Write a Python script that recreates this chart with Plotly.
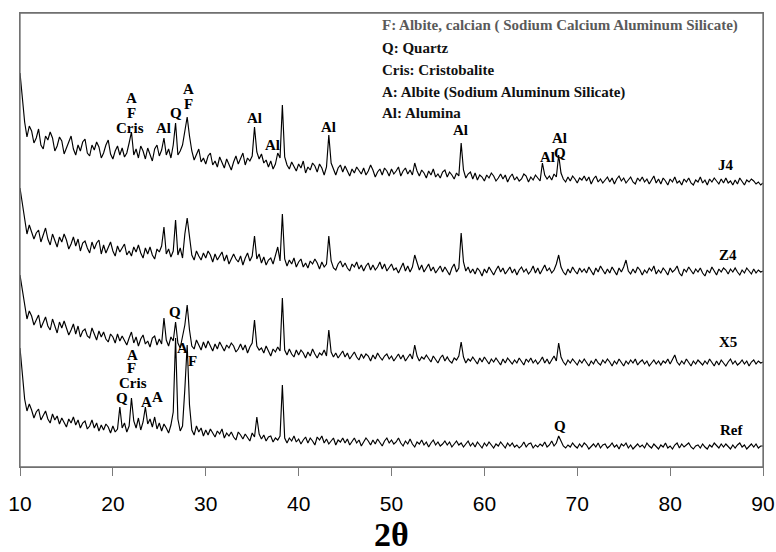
import numpy as np
import plotly.graph_objects as go

# 2-theta sampling grid (degrees)
TWO_THETA_START = 10.0
TWO_THETA_STOP = 90.0
TWO_THETA_STEP = 0.25
two_theta = np.arange(TWO_THETA_START, TWO_THETA_STOP + 1e-9, TWO_THETA_STEP)

# Intensities (a.u., already offset for stacking), 4 samples per degree
j4_intensity = [
    394, 370, 345, 330, 341, 336, 324, 329, 338, 322, 318, 331, 327, 335, 329, 316,
    321, 330, 326, 313, 319, 327, 331, 318, 312, 322, 316, 325, 328, 314, 311, 322,
    317, 325, 320, 309, 314, 322, 327, 313, 308, 316, 321, 312, 319, 310, 314, 324,
    335, 312, 318, 309, 321, 316, 308, 319, 313, 306, 318, 322, 311, 317, 329, 312,
    318, 309, 322, 344, 312, 316, 322, 336, 350, 331, 316, 307, 313, 318, 305, 309,
    303, 311, 314, 302, 306, 300, 310, 304, 299, 308, 302, 297, 305, 311, 303, 308,
    314, 302, 309, 306, 311, 340, 315, 308, 313, 304, 307, 300, 306, 298, 303, 314,
    309, 362, 310, 302, 298, 305, 301, 296, 303, 299, 306, 294, 300, 297, 304, 301,
    295, 303, 299, 292, 300, 332, 304, 297, 292, 299, 302, 295, 301, 296, 291, 298,
    294, 300, 297, 293, 299, 292, 296, 302, 297, 290, 295, 298, 292, 299, 296, 291,
    298, 293, 296, 300, 291, 296, 299, 293, 297, 292, 304, 296, 291, 297, 294, 289,
    296, 292, 298, 290, 293, 289, 295, 297, 290, 295, 292, 288, 294, 291, 324, 297,
    289, 293, 295, 288, 294, 287, 292, 290, 286, 292, 289, 294, 291, 286, 289, 293,
    288, 292, 285, 290, 293, 287, 290, 286, 288, 293, 291, 285, 290, 287, 292, 289,
    286, 304, 292, 288, 291, 287, 293, 290, 312, 294, 288, 285, 290, 286, 291, 288,
    284, 289, 287, 291, 286, 290, 283, 288, 291, 285, 288, 284, 287, 290, 285, 289,
    283, 288, 291, 286, 289, 284, 287, 290, 285, 283, 289, 286, 290, 285, 288, 283,
    287, 291, 284, 288, 283, 289, 286, 282, 288, 285, 290, 284, 286, 282, 288, 285,
    289, 284, 282, 287, 285, 290, 284, 287, 282, 288, 285, 289, 286, 283, 288, 284,
    289, 284, 286, 282, 287, 283, 289, 285, 282, 287, 285, 288, 286, 283, 285, 282,
    284,
]

z4_intensity = [
    279, 263, 246, 233, 242, 236, 228, 234, 237, 225, 231, 239, 228, 222, 233, 226,
    220, 230, 225, 233, 227, 218, 223, 230, 221, 228, 216, 224, 226, 219, 214, 225,
    218, 224, 227, 213, 222, 214, 219, 225, 216, 211, 221, 215, 219, 223, 212, 216,
    211, 220, 215, 222, 214, 209, 219, 213, 220, 212, 208, 218, 215, 221, 240, 213,
    218, 210, 216, 247, 212, 219, 209, 233, 249, 227, 212, 207, 216, 211, 207, 214,
    209, 216, 212, 205, 213, 207, 211, 215, 206, 212, 203, 209, 213, 208, 205, 211,
    202, 209, 214, 206, 211, 231, 208, 213, 204, 210, 202, 207, 209, 203, 211, 220,
    206, 253, 208, 201, 207, 203, 209, 200, 205, 208, 200, 204, 199, 206, 203, 208,
    204, 198, 205, 200, 203, 231, 206, 199, 197, 203, 206, 200, 204, 199, 196, 203,
    200, 205, 198, 202, 196, 201, 204, 197, 202, 197, 200, 205, 198, 203, 196, 200,
    203, 197, 199, 194, 199, 204, 196, 201, 195, 200, 212, 203, 197, 202, 195, 199,
    203, 196, 200, 194, 198, 201, 195, 200, 196, 192, 199, 203, 195, 199, 234, 205,
    196, 200, 194, 198, 193, 199, 196, 191, 198, 194, 200, 196, 192, 197, 201, 195,
    199, 193, 196, 200, 194, 198, 192, 197, 200, 195, 198, 193, 196, 201, 194, 199,
    193, 198, 202, 196, 199, 194, 197, 203, 212, 200, 195, 192, 198, 194, 200, 196,
    193, 199, 195, 198, 194, 200, 196, 192, 199, 195, 201, 197, 193, 198, 194, 200,
    196, 192, 199, 195, 200, 207, 196, 193, 198, 194, 200, 197, 192, 197, 194, 199,
    196, 201, 193, 197, 194, 199, 196, 192, 199, 195, 197, 201, 194, 191, 198, 195,
    200, 196, 193, 198, 195, 199, 194, 191, 197, 194, 200, 196, 192, 198, 195, 199,
    197, 193, 198, 195, 199, 195, 192, 197, 194, 199, 196, 193, 198, 194, 197, 195,
    196,
]

x5_intensity = [
    192, 177, 160, 148, 156, 151, 142, 147, 152, 139, 144, 150, 141, 137, 148, 140,
    134, 145, 139, 146, 140, 132, 137, 143, 133, 141, 130, 136, 138, 131, 129, 139,
    133, 127, 136, 130, 135, 128, 125, 133, 130, 124, 133, 126, 131, 127, 122, 129,
    135, 124, 130, 121, 128, 132, 123, 126, 120, 129, 131, 122, 128, 123, 149, 127,
    121, 130, 126, 145, 124, 119, 130, 142, 162, 137, 121, 118, 127, 122, 117, 125,
    119, 126, 120, 116, 123, 118, 125, 120, 116, 122, 119, 124, 121, 115, 118, 123,
    117, 122, 114, 120, 124, 147, 121, 117, 119, 114, 121, 116, 111, 118, 115, 120,
    116, 169, 117, 112, 118, 113, 110, 117, 112, 117, 114, 109, 115, 111, 118, 113,
    109, 114, 112, 117, 111, 137, 115, 110, 114, 109, 112, 116, 110, 114, 108, 112,
    115, 110, 107, 113, 109, 113, 111, 106, 112, 108, 114, 110, 107, 111, 113, 108,
    111, 106, 110, 113, 108, 112, 106, 110, 113, 108, 122, 111, 106, 110, 108, 112,
    109, 105, 111, 107, 104, 109, 112, 106, 110, 106, 104, 109, 107, 111, 125, 110,
    104, 108, 106, 110, 107, 103, 109, 105, 110, 106, 103, 108, 105, 109, 106, 102,
    108, 104, 109, 106, 103, 107, 104, 109, 106, 102, 108, 105, 109, 104, 107, 103,
    106, 110, 104, 108, 103, 107, 111, 106, 124, 110, 105, 102, 107, 104, 108, 105,
    102, 107, 104, 108, 105, 101, 106, 103, 108, 104, 102, 107, 104, 108, 105, 101,
    106, 103, 108, 104, 101, 106, 103, 107, 104, 108, 102, 105, 107, 103, 106, 101,
    104, 107, 103, 106, 102, 106, 104, 108, 103, 107, 112, 105, 102, 106, 103, 108,
    105, 101, 106, 103, 107, 104, 102, 106, 103, 108, 105, 101, 106, 102, 107, 104,
    101, 105, 108, 103, 106, 102, 104, 107, 103, 106, 101, 105, 107, 103, 106, 104,
    105,
]

ref_intensity = [
    119, 96, 68, 56, 63, 57, 49, 55, 58, 47, 52, 56, 48, 44, 53, 47,
    51, 43, 49, 45, 40, 48, 44, 50, 42, 47, 39, 44, 46, 38, 41, 47,
    39, 44, 36, 42, 37, 43, 40, 34, 41, 35, 38, 60, 39, 44, 35, 41,
    69, 46, 39, 49, 37, 45, 60, 43, 48, 40, 50, 38, 44, 36, 43, 39,
    34, 42, 55, 129, 48, 36, 41, 78, 122, 62, 37, 32, 41, 35, 39, 31,
    37, 32, 38, 34, 30, 36, 33, 38, 29, 34, 31, 35, 30, 27, 35, 32,
    28, 33, 29, 26, 34, 30, 50, 33, 28, 32, 26, 30, 31, 25, 29, 27,
    31, 82, 29, 24, 29, 26, 31, 25, 28, 23, 27, 30, 24, 29, 26, 22,
    30, 27, 31, 24, 28, 23, 26, 29, 22, 27, 25, 29, 24, 28, 22, 26,
    29, 24, 27, 21, 25, 29, 26, 22, 27, 23, 28, 25, 21, 26, 29, 24,
    27, 23, 25, 29, 24, 21, 26, 23, 28, 23, 20, 25, 23, 27, 22, 25,
    20, 24, 27, 22, 25, 21, 23, 26, 22, 25, 20, 23, 26, 22, 24, 20,
    23, 26, 21, 24, 20, 25, 22, 19, 24, 21, 25, 22, 19, 23, 21, 25,
    22, 19, 24, 21, 24, 20, 22, 19, 21, 25, 20, 23, 24, 19, 22, 20,
    23, 21, 25, 20, 22, 26, 21, 24, 31, 25, 21, 19, 22, 20, 24, 21,
    19, 23, 20, 24, 22, 18, 21, 23, 20, 24, 19, 22, 23, 19, 21, 24,
    20, 22, 18, 23, 21, 24, 19, 22, 18, 21, 23, 20, 22, 19, 24, 21,
    19, 23, 20, 18, 22, 20, 24, 19, 21, 18, 22, 24, 19, 23, 20, 22,
    24, 20, 18, 21, 22, 19, 23, 20, 18, 22, 20, 24, 21, 19, 23, 20,
    23, 20, 18, 22, 19, 22, 24, 20, 22, 18, 21, 23, 20, 23, 19, 21,
    21,
]

series_names = ["J4", "Z4", "X5", "Ref"]
series_values = [j4_intensity, z4_intensity, x5_intensity, ref_intensity]

# Series name labels (2theta, intensity)
series_label_x = [86.0, 86.2, 86.2, 86.6]
series_label_y = [302, 212, 125, 37]

# Phase labels above peaks (text, 2theta, intensity)
phase_text = ["A", "F", "Cris", "Al", "Q", "A", "F", "Al", "Al", "Al", "Al", "Al", "Al", "Q",
              "Q",
              "A", "F", "Cris", "Q", "A", "A", "A", "F", "Q"]
phase_x = [22.05, 22.05, 21.85, 25.5, 26.85, 28.1, 28.1, 35.2, 37.2, 43.2, 57.4, 66.8, 68.1, 68.1,
           26.7,
           22.1, 22.05, 22.15, 21.0, 23.65, 24.8, 27.5, 28.6, 68.1]
phase_y = [369, 354, 339, 339, 354, 378, 363, 349, 322, 340, 337, 310, 329, 314,
           155,
           112, 99, 84, 69, 65, 70, 119, 106, 41]

# Phase key (top right)
key_lines = [
    "F: Albite, calcian ( Sodium Calcium Aluminum Silicate)",
    "Q: Quartz",
    "Cris: Cristobalite",
    "A: Albite (Sodium Aluminum Silicate)",
    "Al: Alumina",
]
key_colors = ["#5a5a5a", "#111111", "#111111", "#111111", "#111111"]
key_y = [442, 419, 397, 375, 354]
key_x = 48.9

x_ticks = [10, 20, 30, 40, 50, 60, 70, 80, 90]

fig = go.Figure()
for name, vals in zip(series_names, series_values):
    n = min(len(vals), len(two_theta))
    fig.add_trace(go.Scatter(
        x=two_theta[:n], y=vals[:n], mode="lines", name=name,
        line=dict(color="black", width=1.15), showlegend=False, hoverinfo="skip"))

serif = "Liberation Serif, Times New Roman, serif"
annotations = []
for name, lx, ly in zip(series_names, series_label_x, series_label_y):
    annotations.append(dict(x=lx, y=ly, xref="x", yref="y", text="<b>%s</b>" % name,
                            showarrow=False, font=dict(family=serif, size=15, color="black"),
                            xanchor="center", yanchor="middle"))
for t, px, py in zip(phase_text, phase_x, phase_y):
    annotations.append(dict(x=px, y=py, xref="x", yref="y", text="<b>%s</b>" % t,
                            showarrow=False, font=dict(family=serif, size=15, color="black"),
                            xanchor="center", yanchor="middle", borderpad=0))
for t, c, ky in zip(key_lines, key_colors, key_y):
    annotations.append(dict(x=key_x, y=ky, xref="x", yref="y", text="<b>%s</b>" % t,
                            showarrow=False, font=dict(family=serif, size=15, color=c),
                            xanchor="left", yanchor="middle", borderpad=0))
annotations.append(dict(x=0.5, y=-0.148, xref="paper", yref="paper", text="<b>2θ</b>",
                        showarrow=False, font=dict(family=serif, size=34, color="black"),
                        xanchor="center", yanchor="middle", borderpad=0))

fig.update_layout(
    width=776, height=552, autosize=False,
    margin=dict(l=20, r=13, t=13, b=85, autoexpand=False),
    paper_bgcolor="white", plot_bgcolor="white",
    annotations=annotations,
    shapes=[dict(type="rect", xref="paper", yref="paper", x0=0, x1=1, y0=0, y1=1,
                 line=dict(color="#6e6e6e", width=1.3), fillcolor="rgba(0,0,0,0)",
                 layer="above")],
    xaxis=dict(range=[10, 90], tickvals=x_ticks, ticktext=[str(v) for v in x_ticks],
               automargin=False,
               showgrid=False, zeroline=False, showline=True, mirror=True,
               linecolor="#7a7a7a", linewidth=1, ticks="outside", ticklen=8,
               tickcolor="#7a7a7a", tickwidth=1, ticklabelstandoff=10,
               tickfont=dict(family="Liberation Sans, Arial, sans-serif", size=21, color="black")),
    yaxis=dict(range=[0, 454], automargin=False, showgrid=False, zeroline=False,
               showline=True, mirror=True, linecolor="#7a7a7a", linewidth=1,
               showticklabels=False, ticks=""),
)

# Remove the default page margin so the 776x552 figure fills the window exactly
fig.write_html("out.html",
               config={"displayModeBar": False},
               post_script="document.body.style.margin='0';document.body.style.overflow='hidden';")
